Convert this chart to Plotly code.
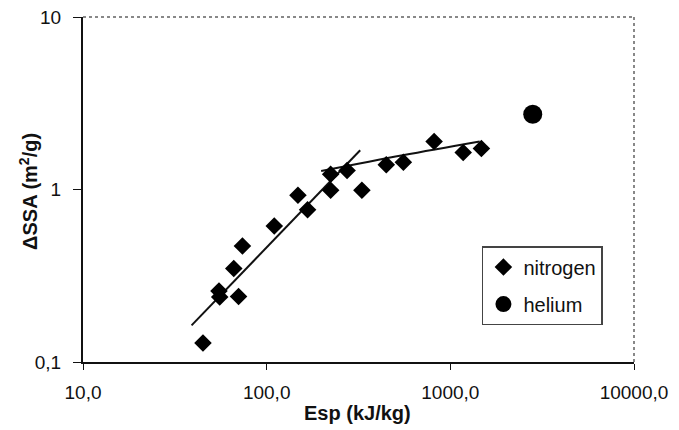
import plotly.graph_objects as go

# Data
nitrogen_esp = [45.0, 55.0, 55.5, 66.2, 70.3, 73.8, 110.0, 148.0, 167.0, 223.0, 223.0, 274.0, 330.0, 448.0, 555.0, 816.0, 1175.0, 1476.0]
nitrogen_dssa = [0.129, 0.258, 0.238, 0.348, 0.240, 0.470, 0.614, 0.925, 0.764, 0.989, 1.225, 1.29, 0.989, 1.39, 1.44, 1.90, 1.64, 1.73]

helium_esp = [2810.0]
helium_dssa = [2.73]

fit1_esp = [39.0, 323.0]
fit1_dssa = [0.163, 1.69]

fit2_esp = [198.0, 550.0, 1445.0]
fit2_dssa = [1.28, 1.58, 1.90]

x_tickvals = [10, 100, 1000, 10000]
x_ticktext = ["10,0", "100,0", "1000,0", "10000,0"]
y_tickvals = [0.1, 1, 10]
y_ticktext = ["0,1", "1", "10"]

x_title = "<b>Esp (kJ/kg)</b>"
y_title = "<b>ΔSSA (m<sup>2</sup>/g)</b>"

FONT = "Liberation Sans, Arial, sans-serif"

fig = go.Figure()
fig.add_trace(go.Scatter(x=fit1_esp, y=fit1_dssa, mode="lines",
                         line=dict(color="#111", width=2), showlegend=False))
fig.add_trace(go.Scatter(x=fit2_esp, y=fit2_dssa, mode="lines", line_shape="spline",
                         line=dict(color="#111", width=2), showlegend=False))
fig.add_trace(go.Scatter(x=nitrogen_esp, y=nitrogen_dssa, mode="markers", name="nitrogen",
                         legendgroup="n",
                         marker=dict(symbol="diamond", size=13.5, color="#000")))
fig.add_trace(go.Scatter(x=helium_esp, y=helium_dssa, mode="markers", name="helium",
                         legendgroup="h",
                         marker=dict(symbol="circle", size=19, color="#000")))

# gray dotted top and right borders
fig.add_shape(type="line", xref="paper", yref="paper", x0=0, x1=1, y0=1, y1=1,
              line=dict(color="#888", width=2, dash="dot"))
fig.add_shape(type="line", xref="paper", yref="paper", x0=1, x1=1, y0=0, y1=1,
              line=dict(color="#888", width=2, dash="dot"))

# axis titles
fig.add_annotation(text=x_title, xref="paper", yref="paper", x=0.499, y=-0.148,
                   xanchor="center", yanchor="middle", showarrow=False,
                   font=dict(size=20, color="#111"))
fig.add_annotation(text=y_title, xref="paper", yref="paper", x=-0.098, y=0.493,
                   xanchor="center", yanchor="middle", showarrow=False, textangle=-90,
                   font=dict(size=20, color="#111"))

fig.update_layout(
    width=679, height=430,
    margin=dict(l=83, r=45, t=17, b=68, autoexpand=False),
    paper_bgcolor="white", plot_bgcolor="white",
    font=dict(family=FONT, size=19, color="#111"),
    legend=dict(x=0.724, y=0.336, xanchor="left", yanchor="top",
                bordercolor="#444", borderwidth=1.5, bgcolor="white",
                font=dict(size=20), itemsizing="trace", traceorder="grouped",
                tracegroupgap=8, itemwidth=30),
)
fig.update_xaxes(type="log", range=[1, 4], tickvals=x_tickvals, ticktext=x_ticktext,
                 showgrid=False, zeroline=False, showline=True, linecolor="#111", linewidth=2,
                 ticks="outside", ticklen=6, tickcolor="#111", ticklabelstandoff=6,
                 automargin=False)
fig.update_yaxes(type="log", range=[-1, 1], tickvals=y_tickvals, ticktext=y_ticktext,
                 showgrid=False, zeroline=False, showline=True, linecolor="#111", linewidth=2,
                 ticks="outside", ticklen=8, tickcolor="#111", ticklabelstandoff=8,
                 automargin=False)

fig.write_html("out.html")
